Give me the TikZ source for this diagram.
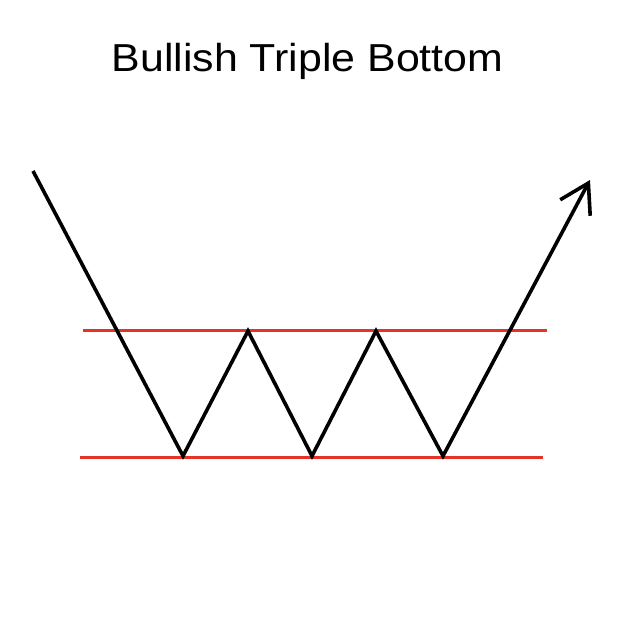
\documentclass[tikz,border=0pt]{standalone}
\usepackage{fontspec}
\setmainfont{Liberation Sans}
\usetikzlibrary{arrows.meta}
\definecolor{resred}{RGB}{228,52,40}
\begin{document}
\begin{tikzpicture}[x=1pt,y=-1pt,
  price/.style={line width=3.6pt,black,line join=miter,line cap=butt},
  level/.style={line width=3pt,resred}]
\useasboundingbox (0,0) rectangle (625,625);
\fill[white] (0,0) rectangle (625,625);
\node[font=\fontsize{39}{46}\selectfont,anchor=base,inner sep=0pt,xscale=1.1] (title) at (307.5,71.5) {Bullish Triple Bottom};
\coordinate (r1a) at (83,330);
\coordinate (r1b) at (547,330);
\coordinate (r2a) at (80,457);
\coordinate (r2b) at (543,457);
\coordinate (p0) at (33,171);
\coordinate (p1) at (183,456);
\coordinate (p2) at (248,331);
\coordinate (p3) at (312,456);
\coordinate (p4) at (376,331);
\coordinate (p5) at (443,456);
\coordinate (p6) at (590,180);
\draw[level] (r1a) -- (r1b);
\draw[level] (r2a) -- (r2b);
\draw[price,-{Straight Barb[length=28pt,width=34pt,line width=3.6pt]}] (p0) -- (p1) -- (p2) -- (p3) -- (p4) -- (p5) -- (p6);
\end{tikzpicture}
\end{document}
